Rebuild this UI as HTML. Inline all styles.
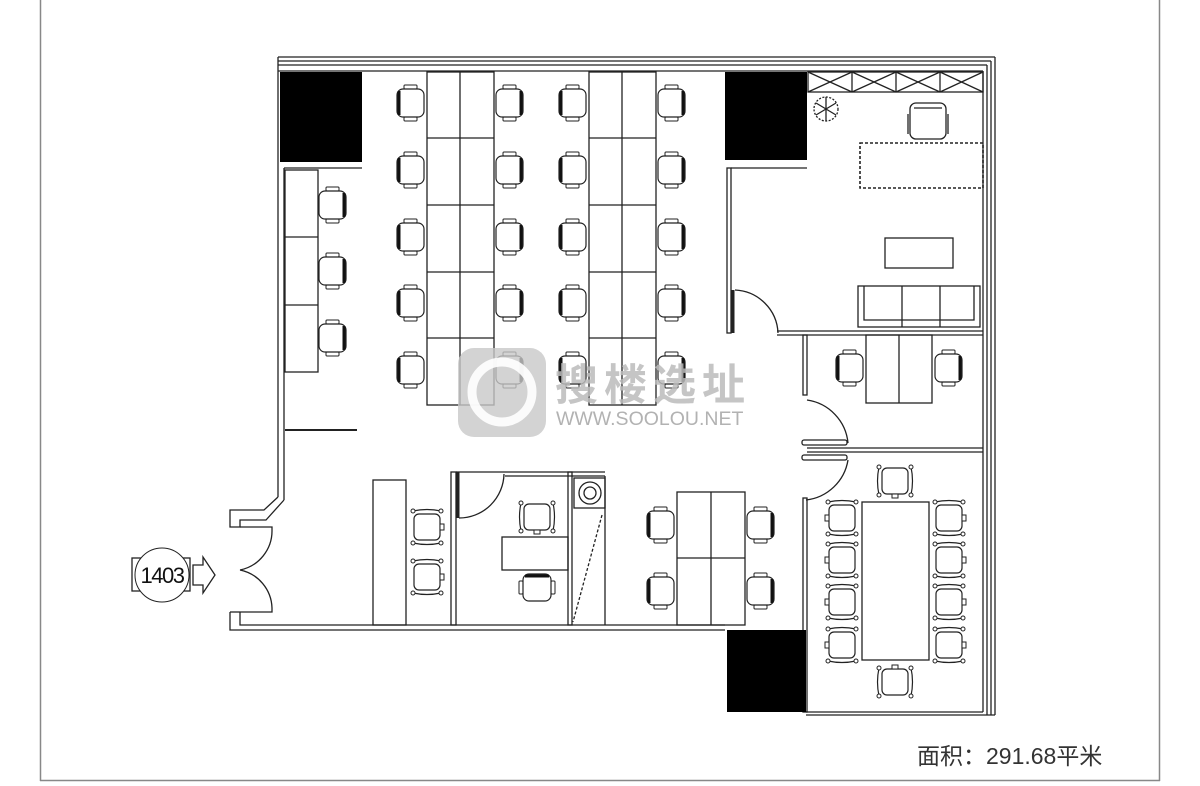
<!DOCTYPE html>
<html><head><meta charset="utf-8"><style>
html,body{margin:0;padding:0;background:#fff;width:1200px;height:786px;overflow:hidden}
svg{display:block}
</style></head><body>
<svg width="1200" height="786" viewBox="0 0 1200 786" xmlns="http://www.w3.org/2000/svg">
<defs>
<g id="chR">
<rect x="-6" y="-18" width="13" height="4" rx="1" fill="#fff" stroke="#222" stroke-width="1"/>
<rect x="-6" y="14" width="13" height="4" rx="1" fill="#fff" stroke="#222" stroke-width="1"/>
<rect x="-13" y="-14" width="27" height="28" rx="6" fill="#fff" stroke="#222" stroke-width="1.2"/>
<line x1="-11" y1="-12" x2="-11" y2="12" stroke="#111" stroke-width="3"/>
</g>
<g id="chL"><use href="#chR" transform="scale(-1,1)"/></g>
<g id="cc">
<rect x="-13" y="-13" width="26" height="26" rx="5" fill="#fff" stroke="#222" stroke-width="1.2"/>
<path d="M-16,-14 Q-19,0 -16,14 M16,-14 Q19,0 16,14" fill="none" stroke="#222" stroke-width="1.2"/>
<circle cx="-16" cy="-14" r="2" fill="#fff" stroke="#222"/><circle cx="-16" cy="14" r="2" fill="#fff" stroke="#222"/>
<circle cx="16" cy="-14" r="2" fill="#fff" stroke="#222"/><circle cx="16" cy="14" r="2" fill="#fff" stroke="#222"/>
<rect x="-3" y="13" width="6" height="4" fill="#fff" stroke="#222"/>
</g>
</defs>
<line x1="40.5" y1="0" x2="40.5" y2="781" stroke="#888" stroke-width="1.5"/>
<line x1="1159.5" y1="0" x2="1159.5" y2="781" stroke="#888" stroke-width="1.5"/>
<line x1="40" y1="780.5" x2="1160" y2="780.5" stroke="#888" stroke-width="1.5"/>

<g fill="none" stroke="#222" stroke-width="1.3">
<line x1="278" y1="57" x2="995" y2="57"/>
<line x1="278" y1="61" x2="991" y2="61"/>
<line x1="278" y1="65" x2="987" y2="65"/>
<line x1="278" y1="71" x2="983" y2="71"/>
<line x1="995" y1="57" x2="995" y2="715"/>
<line x1="991" y1="61" x2="991" y2="715"/>
<line x1="987" y1="65" x2="987" y2="715"/>
<line x1="983" y1="71" x2="983" y2="712"/>
<line x1="278" y1="57" x2="278" y2="497"/>
<line x1="284" y1="168" x2="284" y2="500"/>
<path d="M278,497 L264,510 L230,510 L230,527 L240,527 L240,520 L266,520 L284,500"/>
<path d="M230,612 L230,630 L725,630 M240,612 L240,625 L725,625"/>
<line x1="230" y1="612" x2="240" y2="612"/>
<line x1="806" y1="712" x2="983" y2="712"/>
<line x1="806" y1="715" x2="995" y2="715"/>
<rect x="285" y="170" width="33" height="202"/>
<line x1="285" y1="237" x2="318" y2="237"/><line x1="285" y1="305" x2="318" y2="305"/>
<line x1="285" y1="430" x2="357" y2="430" stroke-width="2"/>
<line x1="284" y1="168" x2="362" y2="168"/>
<rect x="427" y="72" width="67" height="333"/><line x1="460" y1="72" x2="460" y2="405"/>
<rect x="589" y="72" width="67" height="333"/><line x1="622" y1="72" x2="622" y2="405"/>
<path d="M427,138H494M427,205H494M427,272H494M427,338H494M589,138H656M589,205H656M589,272H656M589,338H656"/>
<rect x="727" y="168" width="4" height="165"/>
<line x1="731" y1="168" x2="807" y2="168"/>
<path d="M735,290 A45,45 0 0 1 778,333"/>
<line x1="733" y1="290" x2="733" y2="333" stroke-width="3"/>
<line x1="777" y1="331" x2="983" y2="331"/><line x1="777" y1="335" x2="983" y2="335"/>
<rect x="808" y="72" width="175" height="20"/>
<path d="M808,72 L852,92 M852,72 L808,92 M852,72 L896,92 M896,72 L852,92 M896,72 L940,92 M940,72 L896,92 M940,72 L983,92 M983,72 L940,92 M852,72V92M896,72V92M940,72V92"/>
<rect x="860" y="143" width="123" height="45" stroke-dasharray="3,2" stroke-width="1.6"/>
<rect x="885" y="238" width="68" height="30"/>
<rect x="858" y="286" width="122" height="41"/>
<path d="M864,286V320H974V286M902,286V327M940,286V327"/>
<rect x="910" y="103" width="36" height="36" rx="6"/>
<path d="M914,108 H942 M908,114 V134 M948,114 V134"/>
<circle cx="826" cy="109" r="12" stroke-dasharray="2,1.5"/>
<path d="M816,103 L836,115 M816,115 L836,103 M826,97 V121"/>
<rect x="803" y="335" width="4" height="60"/>
<path d="M807,400 A48,48 0 0 1 848,443"/>
<rect x="866" y="335" width="66" height="68"/><line x1="899" y1="335" x2="899" y2="403"/>
<line x1="807" y1="448" x2="983" y2="448"/><line x1="807" y1="452" x2="983" y2="452"/>
<rect x="802" y="440" width="45" height="5" rx="2"/>
<rect x="802" y="455" width="45" height="5" rx="2"/>
<path d="M848,460 A48,48 0 0 1 806,500"/>
<rect x="803" y="498" width="4" height="214"/>
<rect x="862" y="502" width="67" height="158"/>
<rect x="677" y="492" width="68" height="133"/><line x1="711" y1="492" x2="711" y2="625"/><line x1="677" y1="558" x2="745" y2="558"/>
<rect x="373" y="480" width="33" height="145"/>
<rect x="451" y="472" width="5" height="153"/>
<line x1="456" y1="472" x2="605" y2="472"/><line x1="505" y1="476" x2="605" y2="476"/>
<line x1="458" y1="472" x2="458" y2="518" stroke-width="3"/>
<path d="M459,518 A45,45 0 0 0 504,474"/>
<rect x="502" y="537" width="66" height="33"/>
<rect x="568" y="472" width="4" height="153"/>
<rect x="574" y="478" width="31" height="30"/>
<circle cx="590" cy="493" r="11"/><circle cx="590" cy="493" r="6"/>
<line x1="605" y1="476" x2="605" y2="625"/>
<line x1="602" y1="515" x2="573" y2="622" stroke-dasharray="3,2"/>
<path d="M240,527 L272,527 L272,530 A40,40 0 0 1 240,570"/>
<path d="M240,612 L272,612 L272,608 A40,40 0 0 0 240,570"/>
<rect x="132" y="558" width="58" height="33"/>
<circle cx="162" cy="575" r="27" fill="#fff" stroke-width="1"/>
<path d="M193,565 H203 V557 L215,575 L203,593 V585 H193 Z"/>
</g>
<text x="162" y="583" text-anchor="middle" font-family="Liberation Sans, sans-serif" font-size="22" fill="#111" letter-spacing="-1.5">1403</text>

<rect x="280" y="72" width="82" height="90" fill="#000"/>
<rect x="725" y="72" width="82" height="88" fill="#000"/>
<rect x="727" y="630" width="79" height="82" fill="#000"/>

<g>
<use href="#chR" x="410" y="103"/><use href="#chR" x="410" y="170"/><use href="#chR" x="410" y="237"/><use href="#chR" x="410" y="303"/><use href="#chR" x="410" y="370"/>
<use href="#chL" x="510" y="103"/><use href="#chL" x="510" y="170"/><use href="#chL" x="510" y="237"/><use href="#chL" x="510" y="303"/><use href="#chL" x="510" y="370"/>
<use href="#chR" x="572" y="103"/><use href="#chR" x="572" y="170"/><use href="#chR" x="572" y="237"/><use href="#chR" x="572" y="303"/><use href="#chR" x="572" y="370"/>
<use href="#chL" x="672" y="103"/><use href="#chL" x="672" y="170"/><use href="#chL" x="672" y="237"/><use href="#chL" x="672" y="303"/><use href="#chL" x="672" y="370"/>
<use href="#chL" x="333" y="205"/><use href="#chL" x="333" y="271"/><use href="#chL" x="333" y="338"/>
<use href="#chR" x="849" y="368"/><use href="#chL" x="949" y="368"/>
<use href="#chR" x="660" y="525"/><use href="#chR" x="660" y="591"/>
<use href="#chL" x="761" y="525"/><use href="#chL" x="761" y="591"/>
<use href="#cc" transform="translate(842,518) rotate(90)"/><use href="#cc" transform="translate(842,560) rotate(90)"/><use href="#cc" transform="translate(842,602) rotate(90)"/><use href="#cc" transform="translate(842,645) rotate(90)"/>
<use href="#cc" transform="translate(949,518) rotate(-90)"/><use href="#cc" transform="translate(949,560) rotate(-90)"/><use href="#cc" transform="translate(949,602) rotate(-90)"/><use href="#cc" transform="translate(949,645) rotate(-90)"/>
<use href="#cc" transform="translate(895,481)"/><use href="#cc" transform="translate(895,682) rotate(180)"/>
<use href="#cc" transform="translate(427,527) rotate(-90)"/><use href="#cc" transform="translate(427,577) rotate(-90)"/>
<use href="#cc" transform="translate(537,517)"/><use href="#chR" transform="translate(537,587) rotate(90)"/>
</g>

<rect x="458" y="348" width="88" height="89" rx="16" fill="#c8c8c8" opacity="0.8"/>
<circle cx="502" cy="392" r="30" fill="none" stroke="#fff" stroke-width="9" opacity="0.9"/>
<text x="555" y="400" font-family="Liberation Sans, 'Noto Sans CJK SC', sans-serif" font-size="43" font-weight="bold" fill="#bbb" opacity="0.85" letter-spacing="6">搜楼选址</text>
<text x="556" y="425" font-family="Liberation Sans, sans-serif" font-size="19.5" fill="#aaa" opacity="0.9">WWW.SOOLOU.NET</text>

<text x="917" y="764" font-family="Liberation Sans, 'Noto Sans CJK SC', sans-serif" font-size="23" fill="#333">面积：291.68平米</text>
</svg>
</body></html>
